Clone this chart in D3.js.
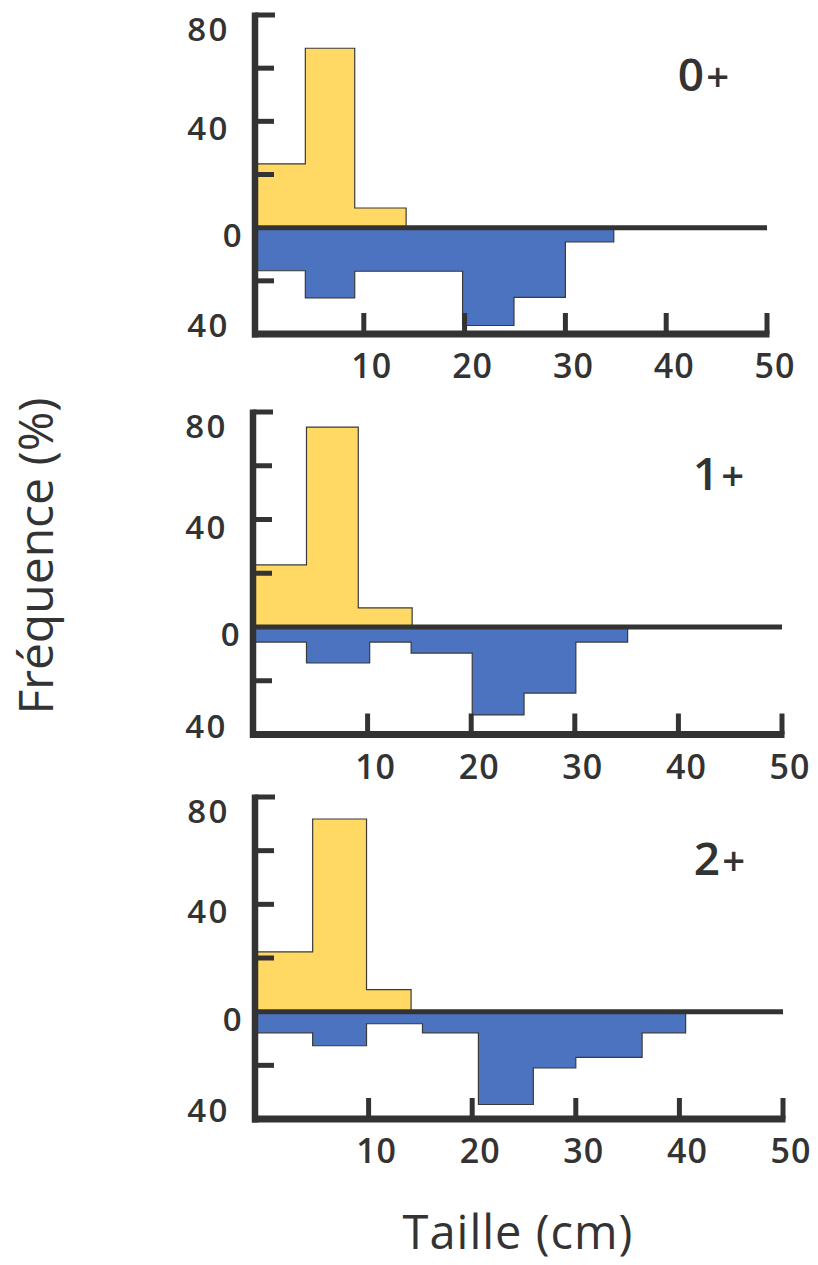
<!DOCTYPE html>
<html>
<head>
<meta charset="utf-8">
<script src="https://cdn.jsdelivr.net/npm/d3@7"></script>
<style>
  html, body { margin: 0; padding: 0; background: #fff; }
  svg { display: block; }
</style>
</head>
<body>
<div id="chart"></div>
<script>
// ---------------- DATA ----------------
const ageClasses = ["0+", "1+", "2+"];
const xTickValues = [10, 20, 30, 40, 50];
const yTickMarks = [60, 40, 20, -20];
const yTickLabelValues = [80, 40, 0, -40];
const xTitle = "Taille (cm)";
const yTitle = "Fréquence (%)";

// Panel 0+ : size-class edges (cm) and frequencies (%)
const yellowEdges0 = [0, 4.2, 9.1, 14.2];
const yellowValues0 = [24, 67.5, 7.4];
const blueEdges0 = [0, 4.2, 9.1, 19.8, 24.9, 30, 34.8];
const blueValues0 = [16.2, 26.4, 16.4, 36.8, 26.2, 5.4];

// Panel 1+
const yellowEdges1 = [0, 4.1, 9.1, 14.3];
const yellowValues1 = [23.1, 74.4, 7.1];
const blueEdges1 = [0, 4.1, 10.2, 14.2, 20.1, 25.1, 30.1, 35.1];
const blueValues1 = [5.6, 13.4, 5.6, 9.7, 32.7, 24.6, 5.6];

// Panel 2+
const yellowEdges2 = [0, 4.6, 9.8, 14.1];
const yellowValues2 = [22.3, 71.8, 8.2];
const blueEdges2 = [0, 4.6, 9.8, 15.2, 20.6, 25.9, 30.0, 36.4, 40.6];
const blueValues2 = [7.9, 12.7, 4.5, 7.9, 34.6, 21, 17, 7.9];

const yellowSeries = [
  { edges: yellowEdges0, values: yellowValues0 },
  { edges: yellowEdges1, values: yellowValues1 },
  { edges: yellowEdges2, values: yellowValues2 }
];
const blueSeries = [
  { edges: blueEdges0, values: blueValues0 },
  { edges: blueEdges1, values: blueValues1 },
  { edges: blueEdges2, values: blueValues2 }
];

// ---------------- LAYOUT ----------------
const W = 818, H = 1265;
const panelLayout = [
  { axisX: 255, x0: 263, x50: 767, yTop: 15, yBot: 334 },
  { axisX: 253, x0: 264, x50: 782, yTop: 412, yBot: 734.5 },
  { axisX: 255, x0: 265, x50: 783, yTop: 797, yBot: 1119 }
];
const ink = "#333333";
const yellow = "#FFD963";
const blue = "#4B73BF";
const font = "'Open Sans', 'DejaVu Sans', sans-serif";

const svg = d3.select("#chart").append("svg")
  .attr("width", W).attr("height", H)
  .attr("viewBox", `0 0 ${W} ${H}`);

svg.append("rect").attr("width", W).attr("height", H).attr("fill", "#fff");

function stepPoints(edges, values, sign) {
  const pts = values.map((v, i) => ({ e: edges[i], v: sign * v }));
  pts.push({ e: edges[edges.length - 1], v: sign * values[values.length - 1] });
  return pts;
}

panelLayout.forEach((L, p) => {
  const x = d3.scaleLinear().domain([0, 50]).range([L.x0, L.x50]);
  const y = d3.scaleLinear().domain([-40, 80]).range([L.yBot, L.yTop]);
  const px = e => (e <= 0 ? L.axisX : x(e));
  const g = svg.append("g").attr("class", "panel");

  const area = d3.area()
    .curve(d3.curveStepAfter)
    .x(d => px(d.e))
    .y0(y(0))
    .y1(d => y(d.v));

  // yellow (positive) series
  g.append("path")
    .datum(stepPoints(yellowSeries[p].edges, yellowSeries[p].values, 1))
    .attr("d", area)
    .attr("fill", yellow)
    .attr("stroke", "#3a3a3a")
    .attr("stroke-width", 1.2);

  // blue (negative, plotted downward) series
  g.append("path")
    .datum(stepPoints(blueSeries[p].edges, blueSeries[p].values, -1))
    .attr("d", area)
    .attr("fill", blue)
    .attr("stroke", "#3a3a3a")
    .attr("stroke-width", 1.2);

  // zero line
  g.append("line")
    .attr("x1", L.axisX).attr("x2", x(50))
    .attr("y1", y(0)).attr("y2", y(0))
    .attr("stroke", ink).attr("stroke-width", 5);

  // y axis line
  g.append("line")
    .attr("x1", L.axisX).attr("x2", L.axisX)
    .attr("y1", y(80) - 2.5).attr("y2", y(-40) + 3.5)
    .attr("stroke", ink).attr("stroke-width", 6.5);

  // top cap
  g.append("line")
    .attr("x1", L.axisX).attr("x2", L.axisX + 20)
    .attr("y1", y(80)).attr("y2", y(80))
    .attr("stroke", ink).attr("stroke-width", 5);

  // y tick marks
  g.selectAll("line.ytick").data(yTickMarks).enter().append("line")
    .attr("class", "ytick")
    .attr("x1", L.axisX).attr("x2", L.axisX + 19)
    .attr("y1", d => y(d)).attr("y2", d => y(d))
    .attr("stroke", ink).attr("stroke-width", 5);

  // x axis line
  g.append("line")
    .attr("x1", L.axisX - 3).attr("x2", x(50) + 2.5)
    .attr("y1", y(-40)).attr("y2", y(-40))
    .attr("stroke", ink).attr("stroke-width", 7);

  // x tick marks
  g.selectAll("line.xtick").data(xTickValues).enter().append("line")
    .attr("class", "xtick")
    .attr("x1", d => x(d)).attr("x2", d => x(d))
    .attr("y1", y(-40)).attr("y2", y(-40) - 21)
    .attr("stroke", ink).attr("stroke-width", 5);

  // x tick labels
  g.selectAll("text.xlab").data(xTickValues).enter().append("text")
    .attr("class", "xlab")
    .attr("x", d => x(d) + 8)
    .attr("y", y(-40) + 44)
    .attr("text-anchor", "middle")
    .attr("font-family", font)
    .attr("font-weight", 600)
    .attr("font-size", 34)
    .attr("letter-spacing", 1)
    .attr("fill", ink)
    .text(d => d);

  // y tick labels (absolute values)
  g.selectAll("text.ylab").data(yTickLabelValues).enter().append("text")
    .attr("class", "ylab")
    .attr("x", d => d === 0 ? L.axisX - 11 : L.axisX - 25)
    .attr("y", d => y(d) + (d === 80 ? 15 : d === -40 ? -8 : 8) + 11)
    .attr("text-anchor", "end")
    .attr("font-family", font)
    .attr("font-weight", 600)
    .attr("font-size", 33)
    .attr("letter-spacing", 2.5)
    .attr("fill", ink)
    .text(d => Math.abs(d));

  // age class label
  const lab = g.append("text")
    .attr("x", x(50) - 38)
    .attr("y", y(0) - 137)
    .attr("text-anchor", "end")
    .attr("font-family", font)
    .attr("font-weight", 600)
    .attr("font-size", 46)
    .attr("fill", ink);
  lab.append("tspan").text(ageClasses[p].slice(0, -1));
  lab.append("tspan").attr("font-size", 40).attr("dx", 2).text("+");
});

// axis titles
svg.append("text")
  .attr("transform", "translate(53,556) rotate(-90)")
  .attr("text-anchor", "middle")
  .attr("font-family", font)
  .attr("font-size", 48)
  .attr("fill", ink)
  .text(yTitle);

svg.append("text")
  .attr("x", 518).attr("y", 1249)
  .attr("text-anchor", "middle")
  .attr("font-family", font)
  .attr("font-size", 47)
  .attr("letter-spacing", 1)
  .attr("fill", ink)
  .text(xTitle);
</script>
</body>
</html>
